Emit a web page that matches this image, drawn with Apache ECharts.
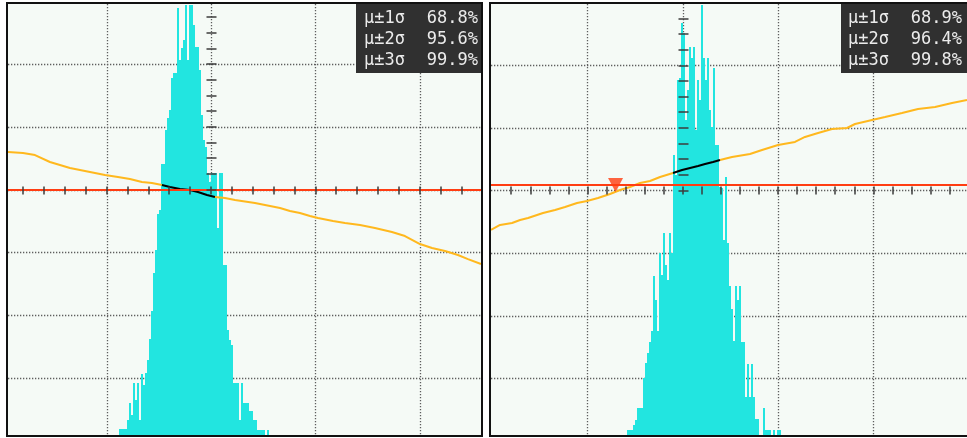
<!DOCTYPE html>
<html>
<head>
<meta charset="utf-8">
<script src="https://cdn.jsdelivr.net/npm/echarts@6/dist/echarts.min.js"></script>
<style>
  html, body { margin: 0; padding: 0; background: #ffffff; }
  #chart { width: 967px; height: 438px; }
</style>
</head>
<body>
<div id="chart"></div>
<script>
// ---- statistics table ----
const sigmaLabels = ['µ±1σ', 'µ±2σ', 'µ±3σ'];
const coverageLeft = ['68.8%', '95.6%', '99.9%'];
const coverageRight = ['68.9%', '96.4%', '99.8%'];

// ---- graticule (in divisions) ----
const gridCols = [-1, 0, 1, 2];
const gridRows = [-3, -2, -1, 0, 1, 2];

// ---- histograms: first bin edge and bin width (divisions), counts per bin ----
const histLeftStart = -0.882;
const histLeftBin = 0.0192;
const histLeftCounts = [6, 6, 6, 6, 15, 32, 20, 52, 35, 52, 15, 61, 50, 62, 75, 96, 124, 162, 185, 221,
  225, 271, 271, 305, 317, 325, 357, 362, 362, 427, 375, 387, 395, 430, 375, 430, 430, 410, 388, 388,
  365, 320, 295, 288, 262, 253, 262, 262, 262, 207, 262, 262, 170, 170, 105, 95, 90, 52, 52, 52,
  15, 52, 32, 32, 32, 24, 24, 15, 15, 5, 5, 5, 5, 0, 5];

const histRightStart = -0.5845;
const histRightBin = 0.021;
const histRightCounts = [5, 5, 5, 10, 15, 27, 27, 27, 57, 72, 82, 93, 104, 159, 135, 104, 182, 160, 202, 170,
  155, 202, 182, 280, 260, 355, 357, 412, 402, 315, 345, 388, 377, 388, 305, 355, 335, 430, 377, 355,
  377, 325, 308, 367, 290, 290, 248, 247, 195, 258, 192, 149, 126, 94, 149, 135, 149, 93, 93, 38,
  71, 38, 71, 38, 16, 16, 0, 0, 27, 5, 5, 5, 0, 5, 0, 5, 5];

// ---- traces [time div, volts div] ----
const traceLeftA = [[-1.946, 0.598], [-1.802, 0.582], [-1.687, 0.550], [-1.544, 0.439], [-1.448, 0.391],
  [-1.352, 0.343], [-1.208, 0.295], [-1.112, 0.263], [-1.016, 0.231], [-0.892, 0.199], [-0.777, 0.167],
  [-0.662, 0.120], [-0.566, 0.104], [-0.470, 0.072]];
const traceLeftMid = [[-0.470, 0.072], [-0.393, 0.040], [-0.297, 0.008], [-0.201, -0.008], [-0.125, -0.040],
  [-0.038, -0.088], [0.038, -0.120]];
const traceLeftB = [[0.038, -0.120], [0.134, -0.136], [0.230, -0.167], [0.422, -0.215], [0.566, -0.263],
  [0.662, -0.295], [0.757, -0.343], [0.853, -0.375], [0.949, -0.423], [1.026, -0.455], [1.170, -0.502],
  [1.285, -0.534], [1.429, -0.566], [1.572, -0.614], [1.735, -0.678], [1.860, -0.742], [2.004, -0.869],
  [2.119, -0.933], [2.244, -0.981], [2.368, -1.045], [2.464, -1.109], [2.589, -1.188]];

const traceRightA = [[-2.012, -0.631], [-1.917, -0.551], [-1.791, -0.519], [-1.707, -0.471], [-1.623, -0.439],
  [-1.466, -0.359], [-1.340, -0.312], [-1.235, -0.264], [-1.109, -0.200], [-1.004, -0.168], [-0.889, -0.120],
  [-0.763, -0.056], [-0.658, 0.008], [-0.553, 0.056], [-0.448, 0.120], [-0.343, 0.152], [-0.238, 0.216],
  [-0.102, 0.280]];
const traceRightMid = [[-0.102, 0.280], [-0.007, 0.327], [0.077, 0.359], [0.161, 0.391], [0.234, 0.423],
  [0.318, 0.455], [0.391, 0.487]];
const traceRightB = [[0.391, 0.487], [0.517, 0.535], [0.706, 0.583], [0.832, 0.647], [1.000, 0.727],
  [1.178, 0.775], [1.283, 0.855], [1.420, 0.919], [1.567, 0.982], [1.724, 0.998], [1.808, 1.062],
  [1.987, 1.126], [2.123, 1.174], [2.301, 1.238], [2.469, 1.302], [2.648, 1.334], [2.826, 1.398],
  [2.983, 1.446]];

// trigger levels and marker
const triggerLeft = -0.008;
const triggerRight = 0.088;
const triggerMarkRight = [[-0.705, 0.088]];

// ---- colours ----
const SCREEN_BG = '#f5faf6';
const GRID_COLOR = '#5e5e5e';
const TICK_COLOR = '#3c3c3c';
const HIST_COLOR = '#22e5e0';
const TRACE_COLOR = '#ffb81e';
const TRIG_COLOR = '#ff3d12';

// ---- screen layout ----
const panels = [
  { rect: { left: 8, top: 4, width: 473, height: 431 }, x: [-1.946, 2.589], y: [-3.915, 2.959],
    hTicks: [-1.8, 2.4], vTicks: [0, 2.75],
    hist: [histLeftStart, histLeftBin, histLeftCounts], histMax: 431,
    traces: [traceLeftA, traceLeftMid, traceLeftB], trig: triggerLeft, mark: null,
    stats: coverageLeft, box: { x: 356, y: 3, w: 127, h: 70, lx: 364, rx: 478 },
    frame: { x: 7, y: 3, w: 475, h: 433 } },
  { rect: { left: 491, top: 4, width: 476, height: 431 }, x: [-2.012, 2.983], y: [-3.906, 2.979],
    hTicks: [-1.8, 2.8], vTicks: [0, 2.75],
    hist: [histRightStart, histRightBin, histRightCounts], histMax: 431,
    traces: [traceRightA, traceRightMid, traceRightB], trig: triggerRight, mark: triggerMarkRight,
    stats: coverageRight, box: { x: 841, y: 3, w: 126, h: 70, lx: 848, rx: 962 },
    frame: { x: 490, y: 3, w: 490, h: 433 } }
];

function pxX(p, v) { return p.rect.left + (v - p.x[0]) / (p.x[1] - p.x[0]) * p.rect.width; }
function pxY(p, v) { return p.rect.top + (p.y[1] - v) / (p.y[1] - p.y[0]) * p.rect.height; }

const grid = [], xAxis = [], yAxis = [], series = [], graphic = [];

function hiddenValueAxis(gridIndex, min, max) {
  return { type: 'value', gridIndex, min, max, show: false };
}

panels.forEach((p) => {
  const gMain = grid.length;
  grid.push({ left: p.rect.left, top: p.rect.top, width: p.rect.width, height: p.rect.height,
    show: true, backgroundColor: SCREEN_BG, borderWidth: 0 });
  const cy = pxY(p, 0), cx = pxX(p, 0);
  const gH = grid.length;
  grid.push({ left: pxX(p, p.hTicks[0]), width: pxX(p, p.hTicks[1]) - pxX(p, p.hTicks[0]),
    top: Math.round(cy) - 3.5, height: 8 });
  const gV = grid.length;
  grid.push({ left: Math.round(cx) - 4.5, width: 10, top: pxY(p, p.vTicks[1]),
    height: pxY(p, p.vTicks[0]) - pxY(p, p.vTicks[1]) });

  const xMain = xAxis.length;
  xAxis.push(hiddenValueAxis(gMain, p.x[0], p.x[1]));
  xAxis.push({ type: 'value', gridIndex: gH, min: p.hTicks[0], max: p.hTicks[1], interval: 0.2,
    position: 'bottom', z: 6, axisLine: { show: false }, axisLabel: { show: false }, splitLine: { show: false },
    axisTick: { show: true, inside: true, length: 8, lineStyle: { color: TICK_COLOR, width: 1.5 } } });
  xAxis.push(hiddenValueAxis(gV, 0, 1));

  const yMain = yAxis.length;
  yAxis.push(hiddenValueAxis(gMain, p.y[0], p.y[1]));
  const yCount = yAxis.length;
  yAxis.push(hiddenValueAxis(gMain, 0, p.histMax));
  yAxis.push(hiddenValueAxis(gH, 0, 1));
  yAxis.push({ type: 'value', gridIndex: gV, min: p.vTicks[0], max: p.vTicks[1], interval: 0.25,
    position: 'left', z: 6, axisLine: { show: false }, axisLabel: { show: false }, splitLine: { show: false },
    axisTick: { show: true, inside: true, length: 10, lineStyle: { color: TICK_COLOR, width: 1.5 } } });

  // dotted graticule
  const dotStyle = { stroke: GRID_COLOR, lineWidth: 1.3, lineDash: [1.3, 1.7] };
  series.push({
    type: 'custom', xAxisIndex: xMain, yAxisIndex: yMain, z: 1, silent: true,
    data: gridCols.map(v => [v, 0]),
    renderItem(params, api) {
      const cs = params.coordSys;
      const x = Math.round(api.coord([api.value(0), 0])[0]) + 0.5;
      return { type: 'line', shape: { x1: x, y1: cs.y, x2: x, y2: cs.y + cs.height }, style: dotStyle };
    }
  });
  series.push({
    type: 'custom', xAxisIndex: xMain, yAxisIndex: yMain, z: 1, silent: true,
    data: gridRows.map(v => [0, v]),
    renderItem(params, api) {
      const cs = params.coordSys;
      const y = Math.round(api.coord([0, api.value(1)])[1]) + 0.5;
      return { type: 'line', shape: { x1: cs.x, y1: y, x2: cs.x + cs.width, y2: y }, style: dotStyle };
    }
  });

  // histogram
  const [h0, hw, counts] = p.hist;
  series.push({
    type: 'custom', xAxisIndex: xMain, yAxisIndex: yCount, z: 2, silent: true,
    data: counts.map((c, i) => [h0 + i * hw, c]),
    renderItem(params, api) {
      const a = api.coord([api.value(0), 0]);
      const b = api.coord([api.value(0) + hw, api.value(1)]);
      const x0 = Math.round(a[0]), x1 = Math.round(b[0]);
      const y0 = Math.round(a[1]), y1 = Math.round(b[1]);
      return { type: 'rect', shape: { x: x0, y: y1, width: x1 - x0, height: y0 - y1 },
        style: { fill: HIST_COLOR } };
    }
  });

  // traces
  const lineBase = { type: 'line', xAxisIndex: xMain, yAxisIndex: yMain, showSymbol: false,
    silent: true, clip: true };
  series.push(Object.assign({}, lineBase, { z: 3, data: p.traces[0], lineStyle: { color: TRACE_COLOR, width: 2 } }));
  series.push(Object.assign({}, lineBase, { z: 3, data: p.traces[2], lineStyle: { color: TRACE_COLOR, width: 2 } }));
  series.push(Object.assign({}, lineBase, { z: 3, data: p.traces[1], lineStyle: { color: '#000000', width: 2 } }));
  series.push(Object.assign({}, lineBase, { z: 4, data: [[p.x[0], p.trig], [p.x[1], p.trig]],
    lineStyle: { color: TRIG_COLOR, width: 2 } }));
  if (p.mark) {
    series.push({ type: 'scatter', xAxisIndex: xMain, yAxisIndex: yMain, z: 5, silent: true,
      data: p.mark, symbol: 'triangle', symbolRotate: 180, symbolSize: [15, 14],
      itemStyle: { color: TRIG_COLOR } });
  }

  // statistics box
  const bx = p.box;
  graphic.push({ type: 'rect', z: 100, shape: { x: bx.x, y: bx.y, width: bx.w, height: bx.h },
    style: { fill: '#303030' } });
  sigmaLabels.forEach((lab, i) => {
    const y = bx.y + 16 + i * 20.8;
    graphic.push({ type: 'text', z: 101, x: bx.lx, y,
      style: { text: lab, font: '17px "DejaVu Sans Mono"', fill: '#ebebeb',
        textAlign: 'left', textVerticalAlign: 'middle', align: 'left', verticalAlign: 'middle' } });
    graphic.push({ type: 'text', z: 101, x: bx.rx, y,
      style: { text: p.stats[i], font: '17px "DejaVu Sans Mono"', fill: '#ebebeb',
        textAlign: 'right', textVerticalAlign: 'middle', align: 'right', verticalAlign: 'middle' } });
  });

  // screen frame
  const f = p.frame;
  graphic.push({ type: 'rect', z: 102, shape: { x: f.x, y: f.y, width: f.w, height: f.h },
    style: { fill: 'none', stroke: '#111111', lineWidth: 2 } });
});

const chart = echarts.init(document.getElementById('chart'), null, { renderer: 'canvas' });
chart.setOption({
  animation: false,
  backgroundColor: '#ffffff',
  grid, xAxis, yAxis, series, graphic
});
</script>
</body>
</html>
